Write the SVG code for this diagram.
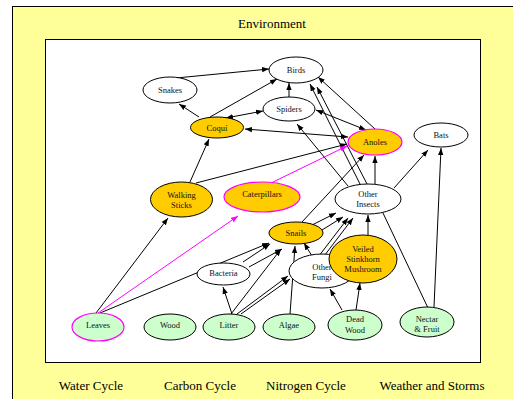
<svg xmlns="http://www.w3.org/2000/svg" width="513" height="399" viewBox="0 0 513 399">
<style>
.lbl{font-family:"Liberation Serif","Times New Roman",serif;font-size:13px;fill:#000;text-anchor:middle}
.t{font-family:"Liberation Serif","Times New Roman",serif;font-size:8.5px;fill:#111;text-anchor:middle}
.w{fill:#fff;stroke:#000;stroke-width:1}
.o{fill:#FFCC00;stroke:#000;stroke-width:1}
.om{fill:#FFCC00;stroke:#FF00FF;stroke-width:1.2}
.g{fill:#CCFFCC;stroke:#000;stroke-width:1}
.gm{fill:#CCFFCC;stroke:#FF00FF;stroke-width:1.2}
.e{fill:none;stroke:#000;stroke-width:1;marker-end:url(#ah)}
.n{fill:none;stroke:#000;stroke-width:1}
.b{fill:none;stroke:#000;stroke-width:1;marker-end:url(#ah);marker-start:url(#ah)}
.m{fill:none;stroke:#FF00FF;stroke-width:1;marker-end:url(#ahm)}
</style>
<defs>
<marker id="ah" viewBox="0 0 10 10" refX="10" refY="5" markerWidth="7" markerHeight="7" markerUnits="userSpaceOnUse" orient="auto-start-reverse"><path d="M0,1.2 L10,5 L0,8.8 z" fill="#000"/></marker>
<marker id="ahm" viewBox="0 0 10 10" refX="10" refY="5" markerWidth="7" markerHeight="7" markerUnits="userSpaceOnUse" orient="auto"><path d="M0,1.2 L10,5 L0,8.8 z" fill="#FF00FF"/></marker>
</defs>
<g id="environment">
<rect x="12.5" y="6.5" width="520" height="410" fill="#FFFF99" stroke="#000" stroke-width="1"/>
<text class="lbl" x="272" y="28">Environment</text>
<rect x="45.5" y="39.5" width="435" height="323" fill="#fff" stroke="#000" stroke-width="1"/>
<text class="lbl" x="91" y="390">Water Cycle</text>
<text class="lbl" x="200" y="390">Carbon Cycle</text>
<text class="lbl" x="306" y="390">Nitrogen Cycle</text>
<text class="lbl" x="432" y="390">Weather and Storms</text>
</g>
<g id="connectors">
<path class="e" d="M176,78 L269,69"/>
<path class="e" d="M199,117 L179,104"/>
<path class="e" d="M210,117 L277,79"/>
<path class="b" d="M226,118 L263,111"/>
<path class="e" d="M289,97 L289,83"/>
<path class="b" d="M245,129 L348,137"/>
<path class="b" d="M316,110 L366,130"/>
<path class="e" d="M375,129 L318,77"/>
<path class="e" d="M360,184 L310,84"/>
<path class="e" d="M367,184 L317,87"/>
<path class="e" d="M348,186 L297,124"/>
<path class="e" d="M375,184 L375,156"/>
<path class="e" d="M302,222 L364,155"/>
<path class="e" d="M394,188 L428,150"/>
<path class="e" d="M434,307 L441,148"/>
<path class="n" d="M428,308 L383,213"/>
<path class="e" d="M190,182 L209,139"/>
<path class="e" d="M196,183 L347,144"/>
<path class="m" d="M271,183 L347,146"/>
<path class="m" d="M98,313 L238,216"/>
<path class="e" d="M96,313 L168,218"/>
<path class="e" d="M100,313 L269,243"/>
<path class="e" d="M243,262 L270,244"/>
<path class="e" d="M249,267 L282,249"/>
<path class="e" d="M232,314 L223,287"/>
<path class="e" d="M231,314 L281,249"/>
<path class="e" d="M237,314 L288,276"/>
<path class="e" d="M241,314 L290,279"/>
<path class="e" d="M290,314 L295,246"/>
<path class="e" d="M312,256 L304,243"/>
<path class="e" d="M322,230 L343,217"/>
<path class="e" d="M290,236 L336,213"/>
<path class="e" d="M312,265 L348,218"/>
<path class="e" d="M315,268 L353,218"/>
<path class="e" d="M368,235 L368,215"/>
<path class="e" d="M342,310 L330,289"/>
<path class="e" d="M356,310 L360,283"/>
</g>
<g id="birds"><ellipse class="w" cx="296" cy="70" rx="27" ry="13"/><text class="t" x="296" y="73">Birds</text></g>
<g id="snakes"><ellipse class="w" cx="170" cy="90" rx="27" ry="13"/><text class="t" x="170" y="93">Snakes</text></g>
<g id="spiders"><ellipse class="w" cx="289" cy="109" rx="26" ry="12"/><text class="t" x="289" y="112">Spiders</text></g>
<g id="coqui"><ellipse class="o" cx="217" cy="127.5" rx="26.5" ry="10.5"/><text class="t" x="217" y="130.5">Coquí</text></g>
<g id="anoles"><ellipse class="om" cx="375" cy="142" rx="27" ry="13"/><text class="t" x="375" y="145">Anoles</text></g>
<g id="bats"><ellipse class="w" cx="441" cy="135" rx="27" ry="12"/><text class="t" x="441" y="138">Bats</text></g>
<g id="other-insects"><ellipse class="w" cx="368" cy="199" rx="33" ry="15"/><text class="t" x="368" y="197">Other</text><text class="t" x="368" y="207">Insects</text></g>
<g id="walking-sticks"><ellipse class="o" cx="181.5" cy="199.5" rx="31" ry="17.5"/><text class="t" x="181.5" y="198">Walking</text><text class="t" x="181.5" y="208">Sticks</text></g>
<g id="caterpillars"><ellipse class="om" cx="262" cy="197" rx="38" ry="15"/><text class="t" x="262" y="197">Caterpillars</text></g>
<g id="snails"><ellipse class="o" cx="296" cy="233" rx="27" ry="11"/><text class="t" x="296" y="236">Snails</text></g>
<g id="bacteria"><ellipse class="w" cx="223.5" cy="274" rx="26.5" ry="11"/><text class="t" x="223.5" y="276">Bacteria</text></g>
<g id="other-fungi"><ellipse class="w" cx="322" cy="271" rx="33" ry="17"/><text class="t" x="322" y="270">Other</text><text class="t" x="322" y="280">Fungi</text></g>
<g id="veiled-stinkhorn"><ellipse class="o" cx="363" cy="259" rx="34" ry="24"/><text class="t" x="363" y="252">Veiled</text><text class="t" x="363" y="262">Stinkhorn</text><text class="t" x="363" y="272">Mushroom</text></g>
<g id="leaves"><ellipse class="gm" cx="98" cy="327" rx="26" ry="14"/><text class="t" x="98" y="328">Leaves</text></g>
<g id="wood"><ellipse class="g" cx="170" cy="327" rx="26" ry="13"/><text class="t" x="170" y="328">Wood</text></g>
<g id="litter"><ellipse class="g" cx="229" cy="327" rx="26" ry="13"/><text class="t" x="229" y="328">Litter</text></g>
<g id="algae"><ellipse class="g" cx="289" cy="327" rx="26" ry="13"/><text class="t" x="289" y="328">Algae</text></g>
<g id="dead-wood"><ellipse class="g" cx="355" cy="325" rx="27" ry="15"/><text class="t" x="355" y="322">Dead</text><text class="t" x="355" y="333">Wood</text></g>
<g id="nectar-fruit"><ellipse class="g" cx="427" cy="322" rx="27" ry="15"/><text class="t" x="427" y="322">Nectar</text><text class="t" x="427" y="332">&amp; Fruit</text></g>
</svg>
